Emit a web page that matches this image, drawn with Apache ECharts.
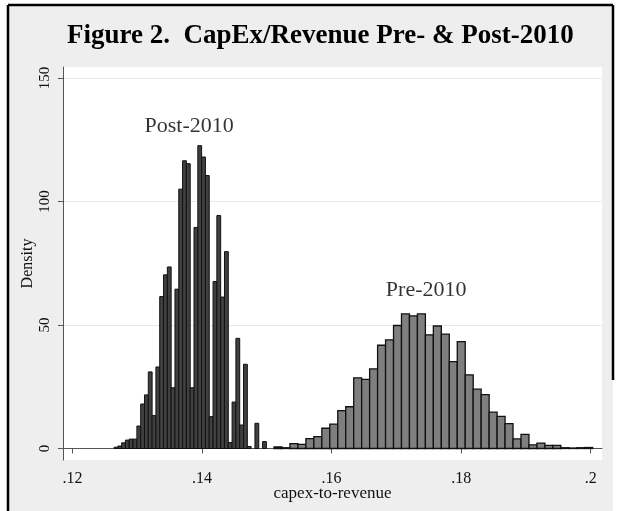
<!DOCTYPE html>
<html>
<head>
<meta charset="utf-8">
<script src="https://cdn.jsdelivr.net/npm/echarts@6/dist/echarts.min.js"></script>
<style>
  html, body { margin: 0; padding: 0; background: #ffffff; }
  #chart { width: 621px; height: 511px; }
</style>
</head>
<body>
<div id="chart"></div>
<script>
// ---- data ----
const chartTitle = 'Figure 2.  CapEx/Revenue Pre- & Post-2010';
const xAxisTitle = 'capex-to-revenue';
const yAxisTitle = 'Density';

const xTicks = [0.12, 0.14, 0.16, 0.18, 0.2];
const yTicks = [0, 50, 100, 150];

// Post-2010 histogram: first bin edge, bin width, densities
const postStart = 0.12641;
const postWidth = 0.000588;
const postDensity = [0.5, 1.0, 2.3, 3.4, 3.8, 3.8, 9.1, 18.0, 21.7, 31.0,
  13.3, 33.0, 61.5, 70.3, 73.5, 24.6, 64.5, 105.0, 116.5, 115.3,
  24.6, 89.5, 122.6, 118.0, 110.5, 12.9, 67.6, 94.3, 61.3, 79.7,
  2.4, 18.8, 44.6, 9.5, 34.1, 0.8, 0, 10.2, 0, 2.8];

// Pre-2010 histogram
const preStart = 0.15111;
const preWidth = 0.00123;
const preDensity = [0.6, 0.3, 2.0, 1.7, 4.0, 4.8, 8.2, 9.9, 15.3, 16.9,
  28.6, 28.0, 32.2, 41.8, 44.0, 49.8, 54.5, 53.7, 54.5, 46.0,
  49.6, 46.3, 35.2, 43.3, 29.8, 24.0, 21.8, 14.7, 13.0, 10.1,
  3.9, 5.7, 1.5, 2.2, 1.3, 1.3, 0.3, 0.2, 0.3, 0.4];

// in-plot annotations (data coordinates)
const noteText = ['Post-2010', 'Pre-2010'];
const noteX = [0.1380, 0.1746];
const noteY = [130.6, 64.2];

// ---- build ----
function bins(start, width, dens) {
  return dens.map((d, i) => [start + i * width, start + (i + 1) * width, d]);
}
function histRender(fill, stroke, lw) {
  return function (params, api) {
    const h = api.value(2);
    if (!(h > 0)) return null;
    const p0 = api.coord([api.value(0), 0]);
    const p1 = api.coord([api.value(1), h]);
    return {
      type: 'rect',
      shape: { x: p0[0], y: p1[1], width: p1[0] - p0[0], height: p0[1] - p1[1] },
      style: { fill: fill, stroke: stroke, lineWidth: lw }
    };
  };
}

const serif = "'Liberation Serif', 'DejaVu Serif', serif";
const chart = echarts.init(document.getElementById('chart'), null, { renderer: 'canvas' });

chart.setOption({
  animation: false,
  backgroundColor: '#ffffff',
  graphic: [
    { type: 'rect', z: -10, shape: { x: 8, y: 5, width: 605, height: 506 },
      style: { fill: '#eeeeee', stroke: null } },
    { type: 'line', z: 10, shape: { x1: 8, y1: 5, x2: 8, y2: 511 }, style: { stroke: '#000', lineWidth: 2.5 } },
    { type: 'line', z: 10, shape: { x1: 8, y1: 5, x2: 613, y2: 5 }, style: { stroke: '#000', lineWidth: 2.5 } },
    { type: 'line', z: 10, shape: { x1: 613, y1: 5, x2: 613, y2: 380 }, style: { stroke: '#000', lineWidth: 2.5 } }
  ],
  title: {
    text: chartTitle,
    left: 62, top: 18,
    textStyle: { fontFamily: serif, fontWeight: 'bold', fontSize: 27, color: '#000' }
  },
  grid: {
    left: 63, right: 19, top: 67, bottom: 51,
    containLabel: false, outerBoundsMode: 'none',
    show: true, backgroundColor: '#ffffff', borderWidth: 0
  },
  xAxis: {
    type: 'value',
    min: 0.118533, max: 0.201745,
    name: xAxisTitle, nameLocation: 'middle', nameGap: 25, nameMoveOverlap: false,
    nameTextStyle: { fontFamily: serif, fontSize: 17, color: '#111' },
    axisLine: { show: true, lineStyle: { color: '#555', width: 1 } },
    axisTick: { show: true, length: 5, customValues: xTicks, lineStyle: { color: '#555' } },
    axisLabel: { customValues: xTicks, margin: 11, fontFamily: serif, fontSize: 16, color: '#111',
      formatter: v => String(+v.toFixed(2)).replace(/^0/, '') },
    splitLine: { show: false }
  },
  yAxis: {
    type: 'value',
    min: -4.66, max: 154.45,
    name: yAxisTitle, nameLocation: 'middle', nameGap: 27, nameMoveOverlap: false,
    nameTextStyle: { fontFamily: serif, fontSize: 16, color: '#111' },
    axisLine: { show: true, lineStyle: { color: '#555', width: 1 } },
    axisTick: { show: true, length: 5, customValues: yTicks, lineStyle: { color: '#555' } },
    axisLabel: { customValues: yTicks, rotate: 90, margin: 10, fontFamily: serif, fontSize: 15, color: '#111' },
    splitLine: { show: true, lineStyle: { color: '#e8e8e8', width: 1 } }
  },
  series: [
    {
      type: 'custom', name: 'Post-2010',
      data: bins(postStart, postWidth, postDensity),
      encode: { x: [0, 1], y: 2 },
      renderItem: histRender('#404040', '#111111', 1)
    },
    {
      type: 'custom', name: 'Pre-2010',
      data: bins(preStart, preWidth, preDensity),
      encode: { x: [0, 1], y: 2 },
      renderItem: histRender('#7f7f7f', '#111111', 1.3)
    },
    {
      type: 'scatter', symbolSize: 0, silent: true,
      data: noteText.map((t, i) => ({ name: t, value: [noteX[i], noteY[i]] })),
      label: { show: true, position: 'inside', formatter: p => p.name,
        fontFamily: serif, fontSize: 22, color: '#000' }
    }
  ]
});
</script>
</body>
</html>
